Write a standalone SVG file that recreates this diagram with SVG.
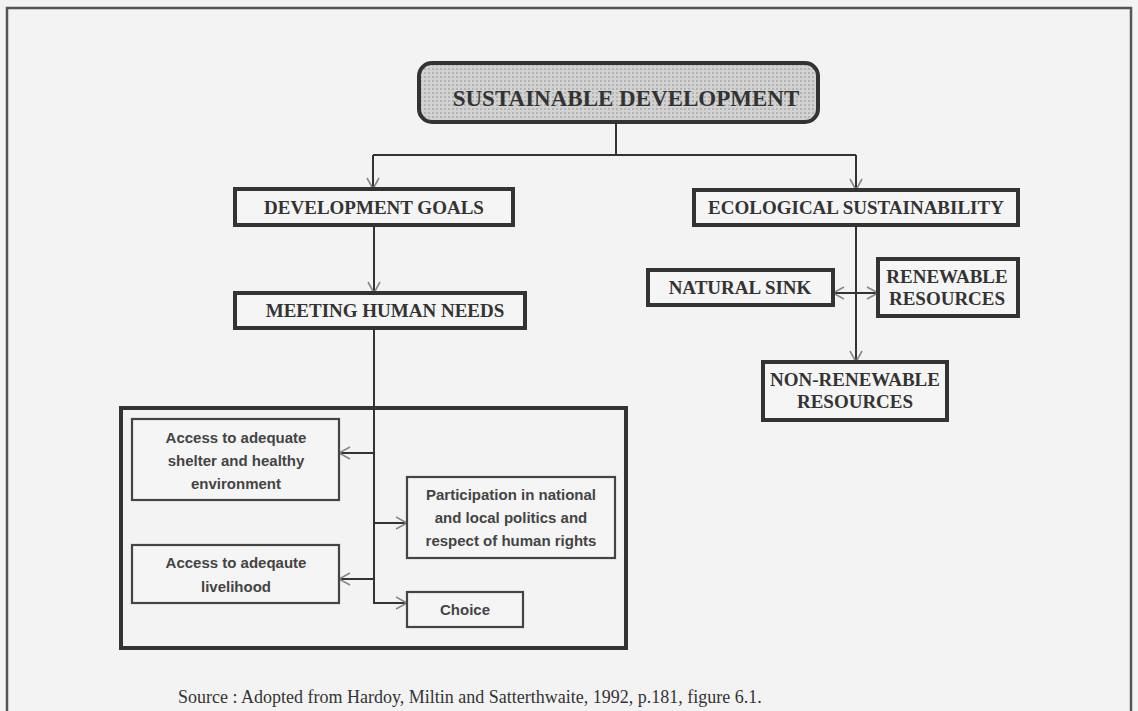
<svg xmlns="http://www.w3.org/2000/svg" width="1138" height="711" viewBox="0 0 1138 711">
<style>
.bg{fill:#f3f3f3}
.frame{fill:none;stroke:#555;stroke-width:2.5}
.box{fill:#f5f5f5;stroke:#333;stroke-width:4}
.sbox{fill:#f5f5f5;stroke:#444;stroke-width:2.2}
.big{fill:none;stroke:#333;stroke-width:4}
.serif{font-family:"Liberation Serif","Times New Roman",serif;font-weight:bold;font-size:19px;fill:#333;text-anchor:middle}
.title{font-size:23px}
.sans{font-family:"Liberation Sans",Arial,sans-serif;font-weight:bold;font-size:15px;fill:#444;text-anchor:middle}
.cap{font-family:"Liberation Serif","Times New Roman",serif;font-size:18px;fill:#333}
.ln{fill:none;stroke:#333;stroke-width:2}
.arr{marker-end:url(#ah)}
</style>
<defs>
<pattern id="dots" width="4" height="4" patternUnits="userSpaceOnUse">
<rect width="4" height="4" fill="#d2d2d2"/>
<rect width="2" height="2" fill="#b4b4b4"/>
</pattern>
<marker id="ah" markerWidth="14" markerHeight="14" refX="0" refY="0" viewBox="-12 -7 14 14" orient="auto-start-reverse" markerUnits="userSpaceOnUse">
<path d="M-11,-6 L0,0 L-11,6" fill="none" stroke="#888" stroke-width="1.6"/>
</marker>
</defs>
<rect class="bg" x="0" y="0" width="1138" height="711"/>
<rect class="frame" x="7" y="8" width="1124" height="730"/>

<g id="connectors">
<path class="ln" d="M616,122 V155 M373,155 H856"/>
<path class="ln arr" d="M373,155 V189"/>
<path class="ln arr" d="M856,155 V190"/>
<path class="ln arr" d="M374,225 V293"/>
<path class="ln arr" d="M374,328 V603 H407"/>
<path class="ln arr" d="M374,453 H339"/>
<path class="ln arr" d="M374,523 H407"/>
<path class="ln arr" d="M374,579 H339"/>
<path class="ln arr" d="M856,225 V362"/>
<path class="ln" d="M833,293 H878" marker-start="url(#ah)" marker-end="url(#ah)"/>
</g>

<g id="sustainable-development">
<rect x="419" y="63" width="399" height="59" rx="13" fill="url(#dots)" stroke="#333" stroke-width="4"/>
<text class="serif title" x="626" y="106">SUSTAINABLE DEVELOPMENT</text>
</g>

<g id="development-goals">
<rect class="box" x="235" y="189" width="278" height="36"/>
<text class="serif" x="374" y="214">DEVELOPMENT GOALS</text>
</g>

<g id="meeting-human-needs">
<rect class="box" x="235" y="293" width="290" height="35"/>
<text class="serif" x="385" y="317">MEETING HUMAN NEEDS</text>
</g>

<g id="ecological-sustainability">
<rect class="box" x="694" y="190" width="324" height="35"/>
<text class="serif" x="856" y="214">ECOLOGICAL SUSTAINABILITY</text>
</g>

<g id="natural-sink">
<rect class="box" x="648" y="270" width="185" height="35"/>
<text class="serif" x="740" y="294">NATURAL SINK</text>
</g>

<g id="renewable-resources">
<rect class="box" x="878" y="259" width="140" height="57"/>
<text class="serif" x="947" y="283">RENEWABLE</text>
<text class="serif" x="947" y="305">RESOURCES</text>
</g>

<g id="non-renewable-resources">
<rect class="box" x="763" y="362" width="184" height="58"/>
<text class="serif" x="855" y="386">NON-RENEWABLE</text>
<text class="serif" x="855" y="408">RESOURCES</text>
</g>

<g id="human-needs-group">
<rect class="big" x="121" y="408" width="505" height="240"/>
</g>

<g id="shelter">
<rect class="sbox" x="132" y="419" width="207" height="81"/>
<text class="sans" x="236" y="443">Access to adequate</text>
<text class="sans" x="236" y="466">shelter and healthy</text>
<text class="sans" x="236" y="489">environment</text>
</g>

<g id="participation">
<rect class="sbox" x="407" y="477" width="208" height="81"/>
<text class="sans" x="511" y="500">Participation in national</text>
<text class="sans" x="511" y="523">and local politics and</text>
<text class="sans" x="511" y="546">respect of human rights</text>
</g>

<g id="livelihood">
<rect class="sbox" x="132" y="545" width="207" height="58"/>
<text class="sans" x="236" y="568">Access to adeqaute</text>
<text class="sans" x="236" y="592">livelihood</text>
</g>

<g id="choice">
<rect class="sbox" x="407" y="592" width="116" height="35"/>
<text class="sans" x="465" y="615">Choice</text>
</g>

<text class="cap" x="178" y="703">Source : Adopted from Hardoy, Miltin and Satterthwaite, 1992, p.181, figure 6.1.</text>
</svg>
